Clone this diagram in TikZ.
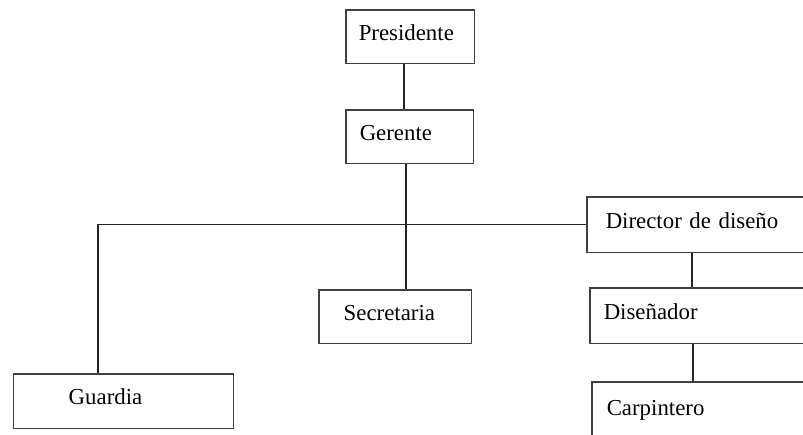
\documentclass[tikz,border=0pt]{standalone}
\usepackage{fontspec}
\setmainfont{Liberation Serif}
\usetikzlibrary{calc}

\tikzset{
  box/.style={draw=black!75,rectangle,anchor=north west,align=left,inner ysep=0pt,
    text height=.7em,text depth=.3em},
  link/.style={draw=black!85}
}

\begin{document}
\begin{tikzpicture}[x=.02cm,y=-.02cm,line width=.85pt,font=\fontsize{13}{15}\selectfont]
\useasboundingbox (0,0) rectangle (803,434);
\fill[white] (0,0) rectangle (803,434);
% boxes
\node[box,minimum height=1.08cm,inner xsep=.26cm,text width=2.06cm] (pres) at (345,9) {Presidente};
\node[box,minimum height=1.08cm,inner xsep=.28cm,text width=2.00cm] (ger) at (345,109) {Gerente};
\node[box,minimum height=1.12cm,inner xsep=.38cm,text width=5.24cm] (dir) at (586,196) {Director de diseño};
\node[box,minimum height=1.08cm,inner xsep=.50cm,text width=2.06cm] (secr) at (318,289) {Secretaria};
\node[box,minimum height=1.12cm,inner xsep=.28cm,text width=5.24cm] (dis) at (589,287) {Diseñador};
\node[box,minimum height=1.10cm,inner xsep=1.10cm,text width=2.20cm] (guard) at (13,373) {Guardia};
\node[box,minimum height=1.20cm,inner xsep=.30cm,text width=5.20cm] (carp) at (591,381) {Carpintero};
% connectors
\coordinate (ptop) at ($(pres.south west)+(59,0)$);
\coordinate (sbot) at ($(ger.south west)+(61,0)$);
\coordinate (gtop) at ($(guard.north west)+(85,0)$);
\coordinate (dtop) at ($(dir.south west)+(106,0)$);
\coordinate (ctop) at ($(dis.south west)+(104,0)$);
\draw[link] (ptop) -- (ptop |- ger.north);
\draw[link] (sbot) -- (sbot |- secr.north);
\draw[link] (dir.west) -| (gtop);
\draw[link] (dtop) -- (dtop |- dis.north);
\draw[link] (ctop) -- (ctop |- carp.north);
\end{tikzpicture}
\end{document}
